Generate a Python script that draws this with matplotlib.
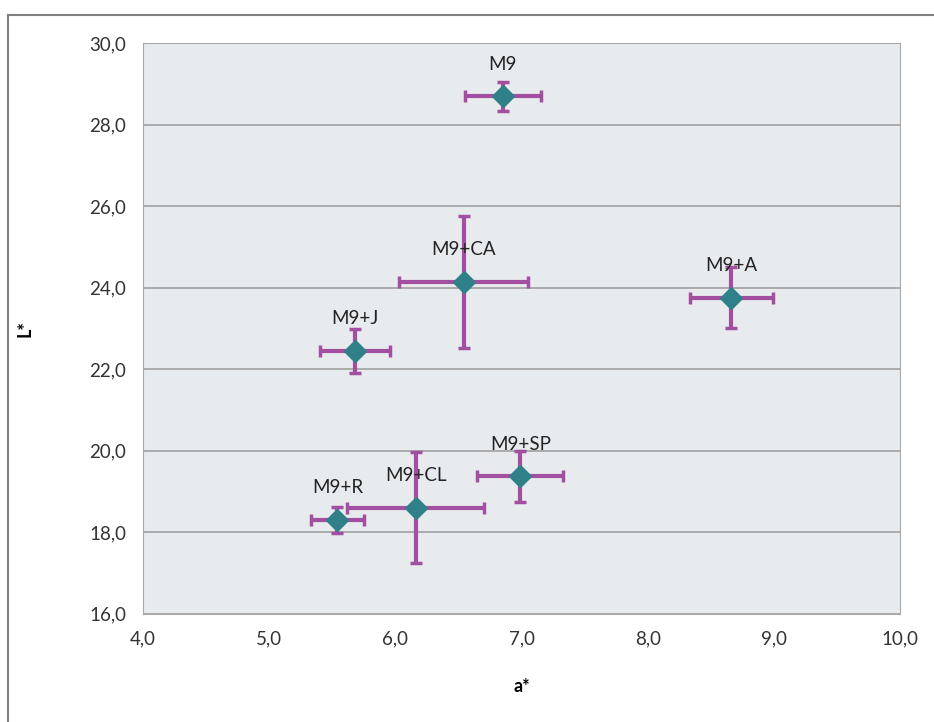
import matplotlib
matplotlib.use('Agg')
import matplotlib.pyplot as plt
from matplotlib.ticker import FuncFormatter

plt.rcParams['font.family'] = ['Lato', 'DejaVu Sans']

labels = ['M9', 'M9+CA', 'M9+A', 'M9+J', 'M9+R', 'M9+CL', 'M9+SP']
a_star = [6.85, 6.54, 8.66, 5.68, 5.54, 6.16, 6.99]
L_star = [28.70, 24.14, 23.76, 22.45, 18.31, 18.60, 19.37]
a_err = [0.30, 0.51, 0.33, 0.28, 0.21, 0.54, 0.34]
L_err = [0.35, 1.62, 0.75, 0.55, 0.32, 1.36, 0.63]

fig = plt.figure(figsize=(9.34, 7.22), dpi=100)
ax = fig.add_axes([0.153, 0.150, 0.811, 0.790])

# outer frame of the chart
fig.add_artist(plt.Line2D([0.009, 0.009], [0, 0.979], color='#808080', lw=1.5))
fig.add_artist(plt.Line2D([0.009, 1.0], [0.979, 0.979], color='#808080', lw=1.5))

ax.set_facecolor('#E8EBED')
ax.errorbar(a_star, L_star, xerr=a_err, yerr=L_err, fmt='D', color='#2F8088',
            markersize=11, ecolor='#A24FA2', elinewidth=3, capsize=4, capthick=2.5,
            zorder=3)
for lab, x, y in zip(labels, a_star, L_star):
    ax.annotate(lab, (x, y), xytext=(0, 17), textcoords='offset points',
                ha='center', va='bottom', fontsize=13.5, color='#222222', zorder=4)

ax.set_xlim(4, 10)
ax.set_ylim(16, 30)
ax.set_xticks(range(4, 11))
ax.set_yticks(range(16, 31, 2))
fmt = FuncFormatter(lambda v, p: ('%.1f' % v).replace('.', ','))
ax.xaxis.set_major_formatter(fmt)
ax.yaxis.set_major_formatter(fmt)
ax.tick_params(length=0, labelsize=13.5, colors='#333333', pad=12)
ax.grid(axis='y', color='#A0A0A0', lw=1.2)
ax.set_axisbelow(True)
for s in ax.spines.values():
    s.set_color('#A8A8A8')
ax.set_xlabel('a*', fontsize=13, fontweight='bold', labelpad=22)
ax.set_ylabel('L*', fontsize=13, fontweight='bold', labelpad=40)

plt.savefig('out.png', dpi=100)
